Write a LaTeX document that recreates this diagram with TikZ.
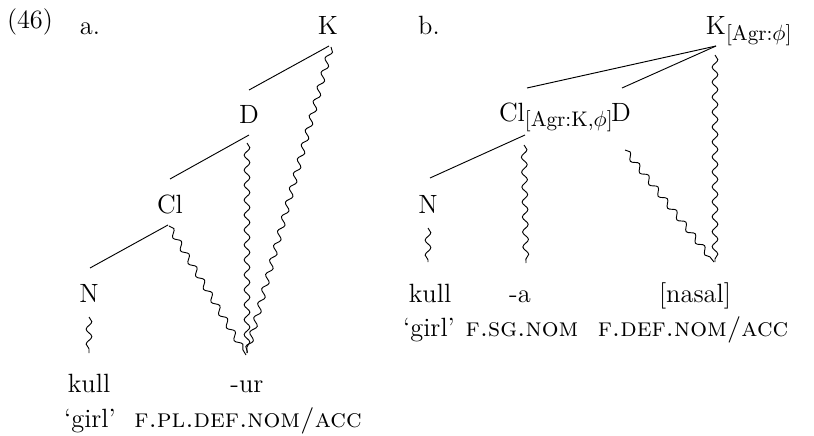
\documentclass[tikz,border=0pt,12pt]{standalone}
\usetikzlibrary{calc,decorations.pathmorphing}
\tikzset{x=0.4545pt,y=-0.4545pt}
\tikzstyle{lbl}=[anchor=base,inner sep=0pt,outer sep=0pt]
\tikzstyle{branch}=[line width=0.42pt]
\tikzstyle{wave}=[line width=0.42pt,decorate,decoration={snake,segment length=6.8pt,amplitude=1.3pt}]
\newcommand{\agr}[1]{\rlap{\raisebox{-2.7pt}{\fontsize{9.6}{11}\selectfont[Agr:#1]}}}

\begin{document}
\begin{tikzpicture}
  \useasboundingbox (0,0) rectangle (814,436);

  % EXAMPLE NUMBER
  \node[lbl] (num) at (30,29) {(46)};

  % TREE A
  \node[lbl] (la)    at (90,35)   {a.};
  \node[lbl] (Ka)    at (328,35)  {K};
  \node[lbl] (Da)    at (249,124) {D};
  \node[lbl] (Cla)   at (170,213) {Cl};
  \node[lbl] (Na)    at (89,302)  {N};
  \node[lbl] (kulla) at (89,392)  {kull};
  \node[lbl] (ur)    at (247,392) {-ur};
  \node[lbl] (girla) at (90,427)  {`girl'};
  \node[lbl] (glsa)  at (248,427) {\textsc{f.pl.def.nom/acc}};

  \draw[branch] ($(Ka.base)+(1,11)$)   -- ($(Da.base)+(0,-34)$);
  \draw[branch] ($(Da.base)+(0,11)$)   -- ($(Cla.base)+(0,-34)$);
  \draw[branch] ($(Cla.base)+(-2,12)$) -- ($(Na.base)+(1,-34)$);
  \draw[wave] ($(Ka.base)+(3,12)$)   -- ($(ur.base)+(0,-39)$);
  \draw[wave] ($(Da.base)+(-2,19)$)  -- ($(ur.base)+(0,-39)$);
  \draw[wave] ($(Cla.base)+(-1,13)$) -- ($(ur.base)+(-1,-37)$);
  \draw[wave] ($(Na.base)+(0,15)$)   -- ($(kulla.base)+(0,-39)$);

  % TREE B
  \node[lbl] (lb)    at (429,35)  {b.};
  \node[lbl] (Kb)    at (716,35)  {K\agr{$\phi$}};
  \node[lbl] (Clb)   at (512,121) {Cl\agr{K,$\phi$}};
  \node[lbl] (Db)    at (621,121) {D};
  \node[lbl] (Nb)    at (428,213) {N};
  \node[lbl] (kullb) at (430,302) {kull};
  \node[lbl] (ab)    at (520,302) {-a};
  \node[lbl] (nasal) at (695,302) {[nasal]};
  \node[lbl] (girlb) at (429,336) {`girl'};
  \node[lbl] (glsb)  at (522,336) {\textsc{f.sg.nom}};
  \node[lbl] (glsc)  at (693,336) {\textsc{f.def.nom/acc}};

  \draw[branch] ($(Kb.base)+(0,11)$)   -- ($(Clb.base)+(15,-33)$);
  \draw[branch] ($(Kb.base)+(0,11)$)   -- ($(Db.base)+(1,-33)$);
  \draw[branch] ($(Clb.base)+(13,14)$) -- ($(Nb.base)+(2,-35)$);
  \draw[wave] ($(Kb.base)+(-1,20)$)   -- ($(nasal.base)+(20,-40)$);
  \draw[wave] ($(Db.base)+(4,29)$)    -- ($(nasal.base)+(19,-40)$);
  \draw[wave] ($(Clb.base)+(12,24)$)  -- ($(ab.base)+(6,-39)$);
  \draw[wave] ($(Nb.base)+(0,15)$)    -- ($(kullb.base)+(-2,-40)$);
\end{tikzpicture}
\end{document}
